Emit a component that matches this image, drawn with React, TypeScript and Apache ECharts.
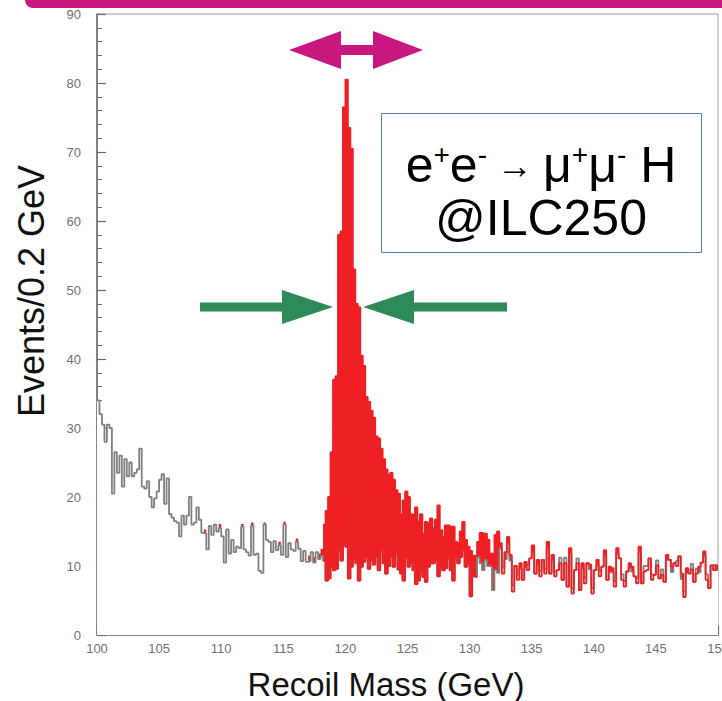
import React, { useEffect, useRef } from 'react';
import * as echarts from 'echarts';

// Histogram: recoil mass, 0.2 GeV bins from 100 to 150 GeV
const BIN_START = 100;
const BIN_END = 150;
const BIN_WIDTH = 0.2;
const SIGNAL_FIRST_BIN = 91; // red outline drawn from 118.2 GeV
const SIGNAL_LOWER_EDGE_LAST_BIN = 152; // red lower edge until ~130.6 GeV

// Background-only histogram (gray outline, white fill)
const backgroundCounts = [
  34, 32, 30.5, 28, 30.5, 30, 20.5, 26.5, 23.5, 26,
  21.5, 25.5, 23, 25, 23, 23.5, 24, 27, 21.5, 21.2,
  22.3, 20, 18.5, 19.8, 20.8, 22.5, 23.3, 19, 22.7, 17.5,
  17, 16.5, 16.3, 14.3, 17.3, 16, 17.3, 20, 16, 16.3,
  18.5, 16.7, 14.8, 14.7, 12.4, 15.8, 14.5, 16, 15, 15.5,
  14.3, 10.5, 15.3, 11.8, 13.8, 12, 12.8, 12.6, 15.7, 12.4,
  12, 11.5, 15.8, 11.6, 11.8, 9.3, 9, 16, 13.8, 13.5,
  12, 13.6, 12.3, 13, 11.6, 16, 11.3, 13.3, 12.4, 12.2,
  13.5, 12.5, 10.7, 12.2, 10.6, 10.7, 12, 10.5, 12, 11,
  11.5, 10.8, 7.9, 8.2, 9.9, 9.4, 9.6, 12.3, 10.8, 13,
  12.8, 8.2, 9.9, 11, 10.4, 7.9, 9.9, 10.6, 11.3, 9.6,
  10.9, 10.2, 11.3, 9.4, 12.3, 10.4, 8.9, 10, 11.3, 9.9,
  11.8, 9.5, 8.9, 7.9, 11.3, 9.9, 10.5, 9.4, 7.4, 7.9,
  9.2, 8.4, 7.7, 9.9, 10.4, 10.4, 10.8, 8.5, 9.9, 9.4,
  9.7, 11.1, 9.4, 7.9, 11.4, 10.4, 11.3, 12.3, 9.9, 10.4,
  5.6, 8.5, 8.4, 11.3, 10.4, 9.4, 10.9, 10, 9.9, 6.5,
  9.4, 9.0, 12.5, 9.8, 11.0, 13.2, 10.8, 7.2, 10.0, 8.8,
  9.6, 8.0, 9.8, 10.2, 11.1, 12.0, 8.9, 10.2, 9.3, 10.9,
  9.6, 12.6, 8.9, 10.8, 9.2, 9.4, 11.2, 8.0, 11.2, 7.0,
  11.8, 6.8, 9.4, 11.1, 6.5, 9.6, 8.3, 10.4, 9.5, 6.8,
  9.4, 10.1, 9.3, 9.9, 11.5, 8.0, 9.1, 9.0, 7.8, 11.8,
  11.1, 8.8, 7.8, 9.2, 9.6, 9.2, 8.5, 8.3, 12.0, 7.5,
  10.0, 10.1, 11.1, 8.8, 8.7, 10.8, 8.2, 9.5, 7.7, 10.9,
  10.9, 9.1, 10.4, 10.7, 11.4, 8.1, 6.3, 9.0, 8.9, 10.3,
  7.7, 9.6, 9.1, 10.5, 11.4, 8.8, 6.8, 10.1, 10.2, 9.4,
];

// Signal + background histogram (red)
const totalCounts = [
  34, 32, 30.5, 28, 30.5, 30, 20.5, 26.5, 23.5, 26,
  21.5, 25.5, 23, 25, 23, 23.5, 24, 27, 21.5, 21.2,
  22.3, 20, 18.5, 19.8, 20.8, 22.5, 23.3, 19, 22.7, 17.5,
  17, 16.5, 16.3, 14.3, 17.3, 16, 17.3, 20, 16, 16.3,
  18.5, 16.7, 14.8, 15.3, 12.4, 15.8, 14.5, 16, 15, 16.1,
  14.3, 10.5, 15.3, 11.8, 13.8, 12, 12.8, 12.6, 16.1, 12.4,
  12, 11.5, 16.3, 11.6, 11.8, 9.3, 9, 16.3, 13.8, 13.5,
  12, 13.6, 12.3, 13.5, 11.6, 16.4, 11.3, 13.3, 12.4, 12.2,
  14, 12.5, 10.7, 12.2, 10.6, 11.5, 12, 11.3, 12, 11.8,
  12.5, 16, 18, 20, 26.5, 37, 37.5, 58, 58.5, 76.5,
  80.5, 73.5, 70.5, 53, 48, 47.5, 40.5, 39, 34.5, 33.8,
  32.5, 31.5, 28.8, 28.5, 27, 25.5, 24, 23.2, 23.5, 22.5,
  21, 20.5, 17.5, 19.5, 20.8, 20, 17.5, 17.4, 18.5, 16.5,
  17.5, 14.7, 16.4, 16.2, 16.9, 15.5, 16.7, 18.8, 15.2, 14.2,
  15.9, 15.9, 15.7, 15.7, 13.5, 13.3, 15, 16.4, 13.8, 12.8,
  12.2, 11.5, 11.4, 13.5, 14.8, 14.7, 14.7, 13.8, 11.8, 11.8,
  14.5, 15, 13.3, 8.9, 12.0, 14.2, 11.6, 6.3, 10.0, 8.0,
  10.4, 8.0, 10.6, 9.4, 11.1, 13.0, 8.9, 10.9, 8.5, 10.9,
  8.9, 13.5, 8.9, 11.6, 8.5, 9.4, 10.4, 8.0, 10.4, 7.0,
  12.6, 6.0, 9.4, 10.4, 6.5, 10.4, 7.5, 10.4, 10.2, 6.0,
  9.4, 10.9, 8.5, 9.9, 12.3, 8.0, 9.9, 9.7, 7.0, 12.6,
  11.1, 8.0, 7.0, 9.2, 10.4, 9.9, 8.5, 7.5, 12.8, 7.5,
  9.2, 9.4, 11.1, 8.0, 8.7, 10.1, 8.2, 8.7, 7.7, 11.6,
  10.9, 9.9, 10.4, 10.0, 11.4, 8.9, 5.5, 9.7, 8.9, 9.5,
  7.7, 8.9, 9.9, 10.5, 12.1, 8.0, 6.8, 10.1, 9.4, 10.1,
];

const X_AXIS_TITLE = 'Recoil Mass (GeV)';
const Y_AXIS_TITLE = 'Events/0.2 GeV';
const BOX_LINE_1 = '{b|e}{s|+}{b|e}{s|-}{a| \u2192 }{b|\u03BC}{s|+}{b|\u03BC}{s|-}{b| H}';
const BOX_LINE_2 = '@ILC250';

const FONT = "'Liberation Sans', Arial, 'DejaVu Sans', sans-serif";
const RED = '#ee2024';
const GRAY_LINE = '#808080';
const AXIS_GRAY = '#6a6a6a';
const MAGENTA = '#c8177f';
const GREEN = '#2e8a57';

const binEdges = backgroundCounts.map((_, i) => Math.round((BIN_START + i * BIN_WIDTH) * 10) / 10);
const toSteps = (vals: (number | null)[]) => [
  ...vals.map((v, i) => [binEdges[i], v]),
  [BIN_END, vals[vals.length - 1]],
];

const totalStep = toSteps(totalCounts);
const bkgStep = toSteps(backgroundCounts);
const totalLineStep = toSteps(totalCounts.map((v, i) => (i >= SIGNAL_FIRST_BIN ? v : null)));
const lowerEdgeStep = toSteps(
  backgroundCounts.map((v, i) => (i >= SIGNAL_FIRST_BIN && i <= SIGNAL_LOWER_EDGE_LAST_BIN ? v : null)),
);

function buildOption(): echarts.EChartsOption {
  const axisCommon = {
    axisLine: { show: true, lineStyle: { color: AXIS_GRAY, width: 1.5 } },
    axisTick: { show: true, inside: true, length: 9, lineStyle: { color: AXIS_GRAY, width: 1.2 } },
    minorTick: { show: true, splitNumber: 5, length: 5, lineStyle: { color: AXIS_GRAY, width: 1 } },
    splitLine: { show: false },
    minorSplitLine: { show: false },
  };
  const stepLine = (name: string, data: any[], extra: any) => ({
    type: 'line',
    name,
    data,
    step: 'end',
    showSymbol: false,
    symbol: 'none',
    connectNulls: false,
    silent: true,
    ...extra,
  });
  return {
    animation: false,
    backgroundColor: '#ffffff',
    grid: {
      left: 97,
      right: 4,
      top: 14,
      bottom: 66,
      show: true,
      borderColor: '#9a9a9a',
      borderWidth: 1,
      backgroundColor: 'transparent',
      outerBoundsMode: 'none',
      containLabel: false,
    },
    xAxis: {
      type: 'value',
      min: BIN_START,
      max: BIN_END,
      interval: 5,
      ...axisCommon,
      axisLabel: { color: '#707070', fontSize: 13, fontFamily: FONT, margin: 7 },
    },
    yAxis: {
      type: 'value',
      min: 0,
      max: 90,
      interval: 10,
      ...axisCommon,
      axisLabel: { color: '#707070', fontSize: 13, fontFamily: FONT, margin: 16 },
    },
    series: [
      stepLine('total-fill', totalStep, {
        lineStyle: { width: 0, opacity: 0 },
        areaStyle: { color: RED, opacity: 1 },
        z: 2,
      }),
      stepLine('background-fill', bkgStep, {
        lineStyle: { width: 0, opacity: 0 },
        areaStyle: { color: '#ffffff', opacity: 1 },
        z: 3,
      }),
      stepLine('background', bkgStep, {
        lineStyle: { color: GRAY_LINE, width: 1.8 },
        z: 4,
      }),
      stepLine('signal-lower-edge', lowerEdgeStep, {
        lineStyle: { color: RED, width: 2 },
        z: 5,
      }),
      stepLine('total', totalLineStep, {
        lineStyle: { color: RED, width: 1.8 },
        z: 5,
      }),
    ],
    graphic: [
      {
        type: 'rect',
        z: 100,
        shape: { x: 25, y: -12, width: 720, height: 20, r: 8 },
        style: { fill: MAGENTA },
      },
      {
        type: 'polygon',
        z: 100,
        shape: {
          points: [
            [289, 50], [341, 31], [341, 45], [373, 45], [373, 31],
            [423, 50], [373, 69], [373, 55], [341, 55], [341, 69],
          ],
        },
        style: { fill: MAGENTA },
      },
      {
        type: 'polygon',
        z: 100,
        shape: {
          points: [
            [200, 302.5], [282, 302.5], [282, 290], [333, 307],
            [282, 324], [282, 311.5], [200, 311.5],
          ],
        },
        style: { fill: GREEN },
      },
      {
        type: 'polygon',
        z: 100,
        shape: {
          points: [
            [507, 302.5], [414, 302.5], [414, 290], [363, 307],
            [414, 324], [414, 311.5], [507, 311.5],
          ],
        },
        style: { fill: GREEN },
      },
      {
        type: 'rect',
        z: 100,
        shape: { x: 381.5, y: 113.5, width: 320, height: 139 },
        style: { fill: '#ffffff', stroke: '#5a80b8', lineWidth: 1 },
      },
      {
        type: 'text',
        z: 101,
        style: {
          x: 541,
          y: 165,
          text: BOX_LINE_1,
          fill: '#000000',
          font: `50px ${FONT}`,
          textAlign: 'center',
          textVerticalAlign: 'middle',
          rich: {
            b: { fontSize: 50, fontFamily: FONT, fill: '#000000', lineHeight: 50 },
            s: { fontSize: 28, fontFamily: FONT, fill: '#000000', verticalAlign: 'top', lineHeight: 28 },
            a: { fontSize: 36, fontFamily: FONT, fill: '#000000', lineHeight: 36 },
          },
        },
      },
      {
        type: 'text',
        z: 101,
        style: {
          x: 541,
          y: 218,
          text: BOX_LINE_2,
          fill: '#000000',
          font: `50px ${FONT}`,
          textAlign: 'center',
          textVerticalAlign: 'middle',
        },
      },
      {
        type: 'text',
        z: 101,
        style: {
          x: 386,
          y: 684,
          text: X_AXIS_TITLE,
          fill: '#111111',
          font: `33px ${FONT}`,
          textAlign: 'center',
          textVerticalAlign: 'middle',
        },
      },
      {
        type: 'text',
        z: 101,
        x: 31,
        y: 291,
        rotation: Math.PI / 2,
        style: {
          x: 0,
          y: 0,
          text: Y_AXIS_TITLE,
          fill: '#111111',
          font: `36px ${FONT}`,
          textAlign: 'center',
          textVerticalAlign: 'middle',
        },
      },
    ],
  } as echarts.EChartsOption;
}

export default function App() {
  const ref = useRef<HTMLDivElement>(null);
  useEffect(() => {
    document.body.style.margin = '0';
    if (!ref.current) return;
    const chart = echarts.init(ref.current, undefined, { renderer: 'svg' });
    chart.setOption(buildOption());
    return () => {
      chart.dispose();
    };
  }, []);
  return <div ref={ref} style={{ width: 722, height: 701 }} />;
}
